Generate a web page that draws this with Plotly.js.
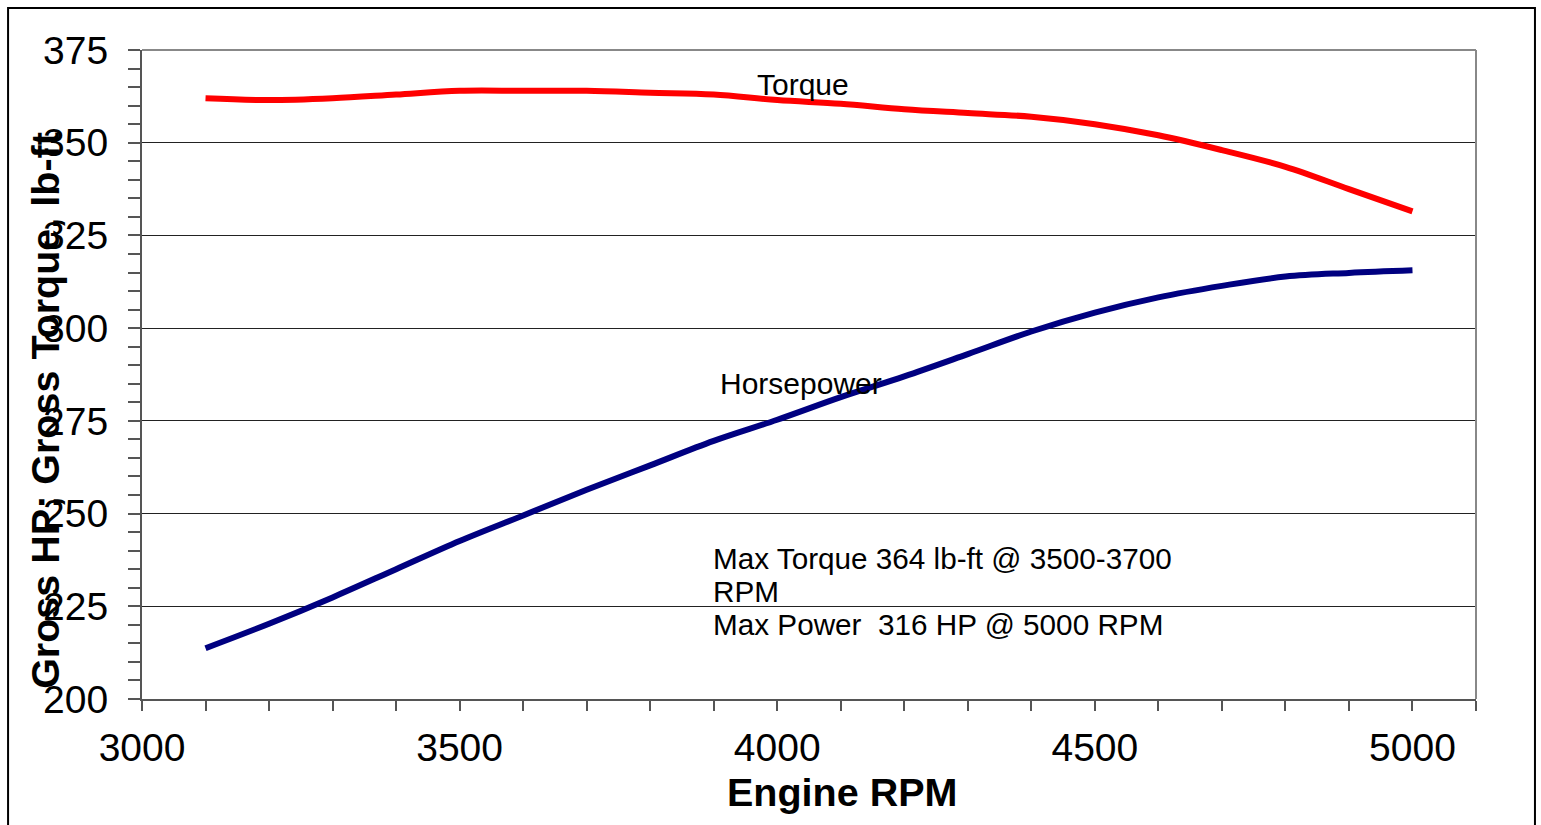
<!DOCTYPE html>
<html>
<head>
<meta charset="utf-8">
<script src="https://cdn.plot.ly/plotly-3.0.1.min.js"></script>
<style>
html,body{margin:0;padding:0;background:#fff;}
#chart{width:1541px;height:825px;}
</style>
</head>
<body>
<div id="chart"></div>
<script>
const rpm = [3100,3200,3300,3400,3500,3600,3700,3800,3900,4000,4100,4200,4300,4400,4500,4600,4700,4800,4900,5000];
const torque = [362,361.5,362,363,364,364,364,363.5,363,361.5,360.5,359,358,357,355,352,348,343.5,337.5,331.5];
const horsepower = [213.7,220.3,227.4,235,242.6,249.5,256.4,263,269.6,275.3,281.4,287,293,299.1,304.2,308.3,311.4,313.9,314.9,315.6];
const yTicks = [200,225,250,275,300,325,350,375];
const xTicks = [3000,3500,4000,4500,5000];
const notes = ["Max Torque 364 lb-ft @ 3500-3700", "RPM", "Max Power  316 HP @ 5000 RPM"];

const FONT = "Arial, 'Liberation Sans', sans-serif";

const traces = [
  {x: rpm, y: torque, mode: 'lines', name: 'Torque',
   line: {color: '#FF0000', width: 6, shape: 'spline'}},
  {x: rpm, y: horsepower, mode: 'lines', name: 'Horsepower',
   line: {color: '#000080', width: 6, shape: 'spline'}}
];

const layout = {
  width: 1541, height: 825,
  paper_bgcolor: '#fff', plot_bgcolor: '#fff',
  showlegend: false,
  margin: {l: 142, r: 65, t: 50, b: 126},
  font: {family: FONT, color: '#000'},
  xaxis: {
    range: [3000, 5100], tickvals: xTicks, ticktext: xTicks.map(String),
    showgrid: false, zeroline: false,
    showline: true, linecolor: '#555', linewidth: 2,
    ticks: 'outside', ticklen: 10, tickcolor: '#555', tickwidth: 2,
    minor: {dtick: 100, tick0: 3000, ticks: 'outside', ticklen: 10, tickcolor: '#555', tickwidth: 2, showgrid: false},
    tickfont: {size: 39, family: FONT, color: '#000'},
    ticklabelstandoff: 3
  },
  yaxis: {
    range: [200, 375], tickvals: yTicks, ticktext: yTicks.map(String),
    showgrid: true, gridcolor: '#222', gridwidth: 1, zeroline: false,
    showline: true, linecolor: '#555', linewidth: 2,
    ticks: 'outside', ticklen: 12, tickcolor: '#555', tickwidth: 2,
    minor: {dtick: 5, tick0: 200, ticks: 'outside', ticklen: 12, tickcolor: '#555', tickwidth: 2, showgrid: false},
    tickfont: {size: 39, family: FONT, color: '#000'},
    ticklabelstandoff: 12
  },
  shapes: [
    {type: 'line', xref: 'paper', yref: 'paper', x0: 0, x1: 1, y0: 1, y1: 1, line: {color: '#888', width: 2}},
    {type: 'line', xref: 'paper', yref: 'paper', x0: 1, x1: 1, y0: 0, y1: 1, line: {color: '#888', width: 2}},
    {type: 'rect', xref: 'paper', yref: 'paper', x0: -0.1004, x1: 1.0442, y0: -0.3, y1: 1.0647, line: {color: '#000', width: 2}}
  ],
  annotations: [
    {xref: 'paper', yref: 'paper', x: -0.0727, y: 0.444, text: '<b>Gross HP; Gross Torque, lb-ft</b>',
     textangle: -90, showarrow: false, xanchor: 'center', yanchor: 'middle',
     font: {size: 39.5, family: FONT, color: '#000'}},
    {xref: 'paper', yref: 'paper', x: 0.5247, y: -0.1433, text: '<b>Engine RPM</b>',
     showarrow: false, xanchor: 'center', yanchor: 'middle',
     font: {size: 39.5, family: FONT, color: '#000'}},
    {x: 4041, y: 365.8, text: 'Torque', showarrow: false, xanchor: 'center', yanchor: 'middle',
     font: {size: 30, family: FONT, color: '#000'}},
    {x: 4038, y: 285, text: 'Horsepower', showarrow: false, xanchor: 'center', yanchor: 'middle',
     font: {size: 30, family: FONT, color: '#000'}},
    {x: 3895, y: 237.8, text: notes[0], showarrow: false, xanchor: 'left', yanchor: 'middle',
     font: {size: 29.7, family: FONT, color: '#000'}},
    {x: 3895, y: 228.9, text: notes[1], showarrow: false, xanchor: 'left', yanchor: 'middle',
     font: {size: 29.7, family: FONT, color: '#000'}},
    {x: 3895, y: 220.0, text: notes[2], showarrow: false, xanchor: 'left', yanchor: 'middle',
     font: {size: 29.7, family: FONT, color: '#000'}}
  ]
};

Plotly.newPlot('chart', traces, layout, {staticPlot: true, displayModeBar: false});
</script>
</body>
</html>
